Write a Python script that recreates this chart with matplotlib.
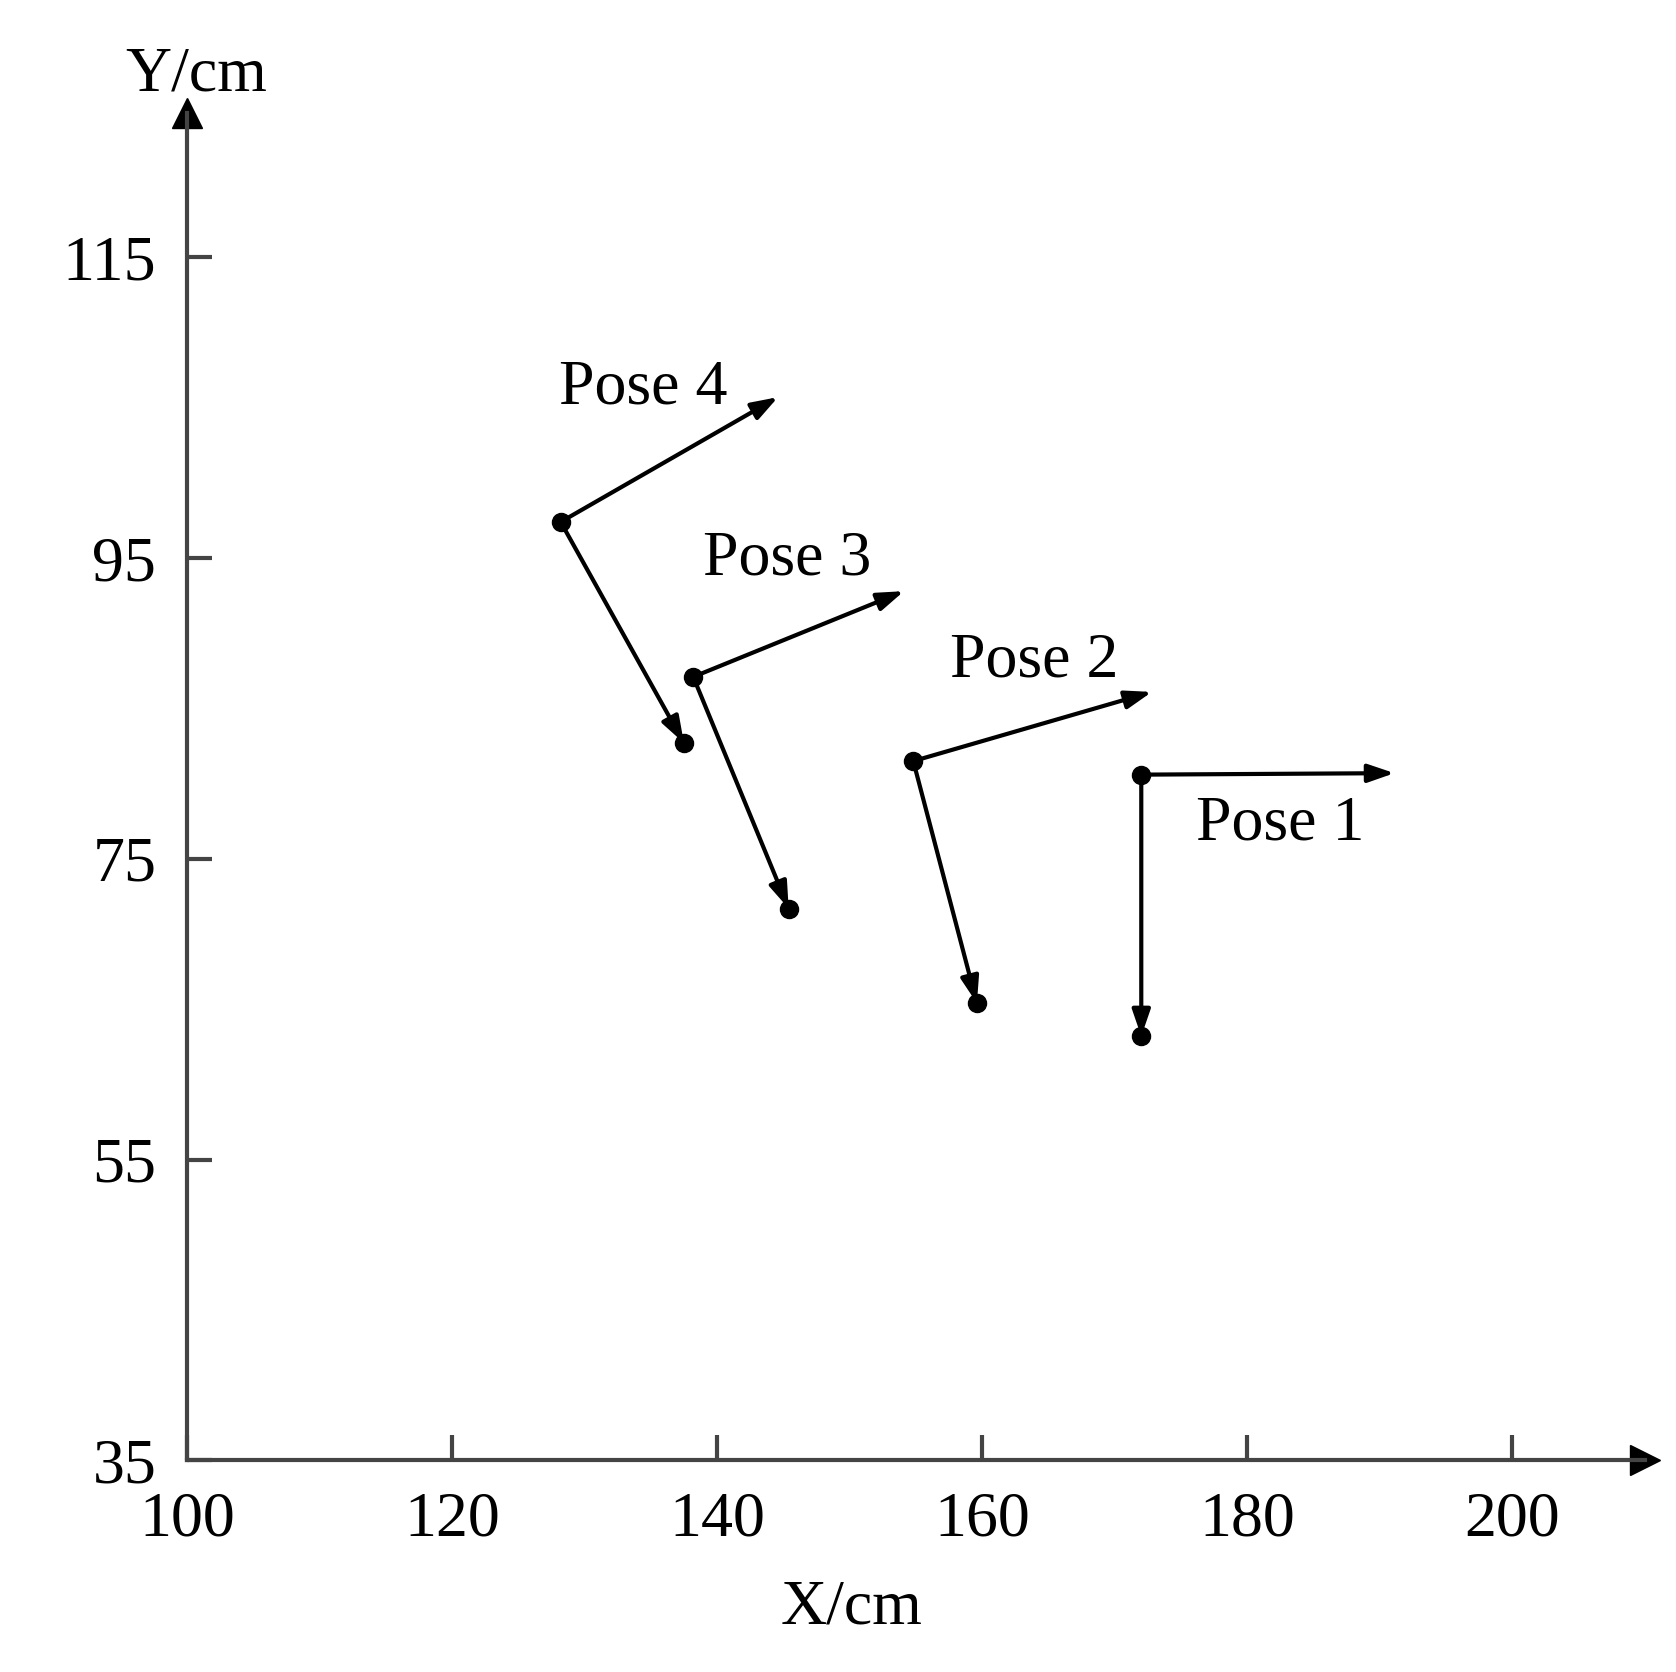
import matplotlib
matplotlib.use("Agg")
from matplotlib import pyplot as plt

plt.rcParams['font.family'] = ['Liberation Serif', 'DejaVu Serif']

# pose data (cm)
origin_x = [172.0, 154.8, 138.2, 128.2]
origin_y = [80.6, 81.5, 87.1, 97.4]
xtip_x = [191.1, 172.8, 154.1, 144.6]
xtip_y = [80.7, 86.1, 92.8, 105.7]
yend_x = [172.0, 159.6, 145.4, 137.5]
yend_y = [63.2, 65.4, 71.7, 82.7]
labels = ["Pose 1", "Pose 2", "Pose 3", "Pose 4"]
label_x = [182.5, 163.9, 145.3, 134.4]
label_y = [77.3, 88.1, 94.9, 106.3]

xticks = [100, 120, 140, 160, 180, 200]
yticks = [35, 55, 75, 95, 115]

fig = plt.figure(figsize=(16.76, 16.72), dpi=100)
ax = fig.add_axes([0.1115, 0.1265, 0.87, 0.806])
ax.set_xlim(100, 210)
ax.set_ylim(35, 124.6)

for s in ["top", "right"]:
    ax.spines[s].set_visible(False)
for s in ["left", "bottom"]:
    ax.spines[s].set_linewidth(3)
    ax.spines[s].set_color("#444444")
ax.plot(1, 0, ">", color="black", markersize=22, transform=ax.transAxes, clip_on=False)
ax.plot(0, 1, "^", color="black", markersize=22, transform=ax.transAxes, clip_on=False)

ax.set_xticks(xticks)
ax.set_yticks(yticks)
ax.tick_params(direction="in", length=18, width=3, color="#444444", labelsize=46, pad=22)

akw = dict(arrowstyle="-|>,head_length=1.6,head_width=0.55", color="black", lw=3,
           shrinkA=0, shrinkB=0)
for i in range(4):
    ax.annotate("", xy=(xtip_x[i], xtip_y[i]), xytext=(origin_x[i], origin_y[i]), arrowprops=akw)
    ax.annotate("", xy=(yend_x[i], yend_y[i]), xytext=(origin_x[i], origin_y[i]), arrowprops=akw)
    ax.text(label_x[i], label_y[i], labels[i], fontsize=46, ha="center", va="center")
ax.plot(origin_x, origin_y, "o", color="black", markersize=13, zorder=5)
ax.plot(yend_x, yend_y, "o", color="black", markersize=13, zorder=5)

fig.text(0.117, 0.955, "Y/cm", fontsize=46, ha="center", va="center")
fig.text(0.508, 0.038, "X/cm", fontsize=46, ha="center", va="center")

fig.savefig("out.png", dpi=100, facecolor="white")
